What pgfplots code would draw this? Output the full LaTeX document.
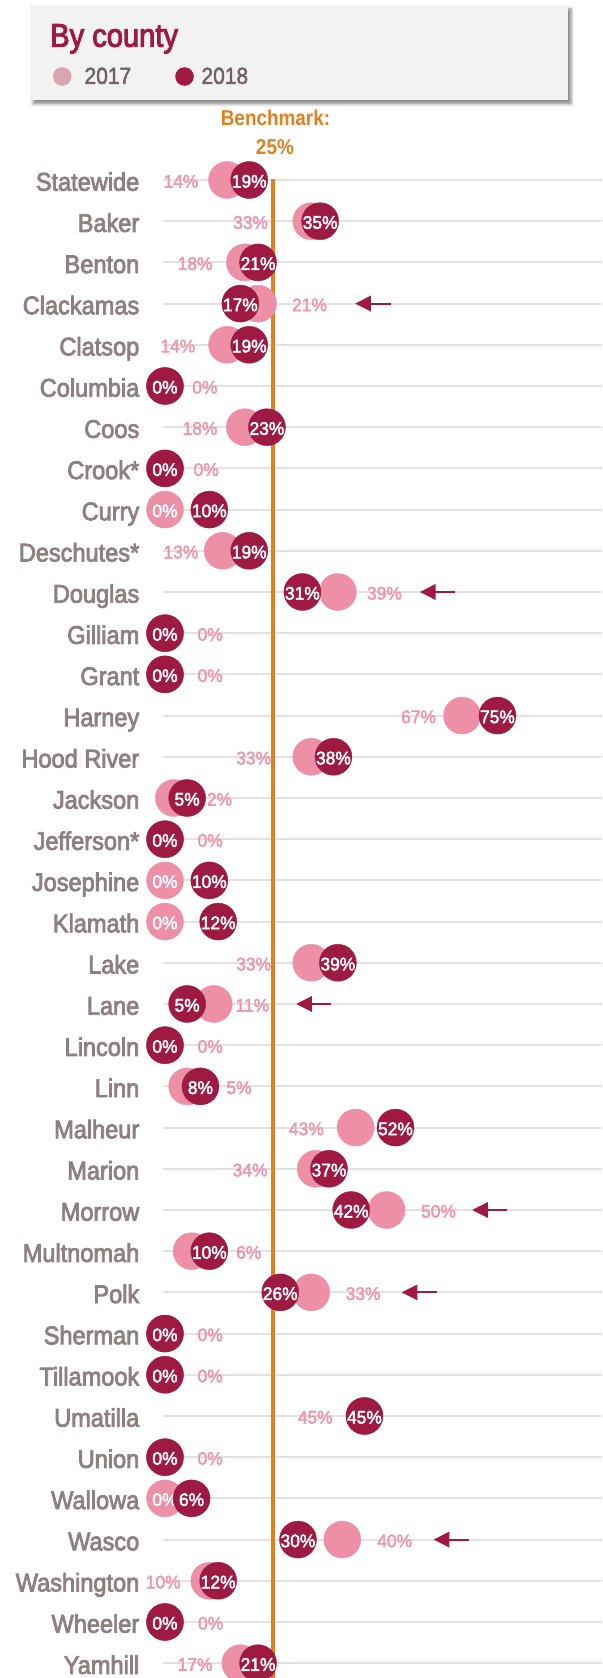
\documentclass[border=0pt]{standalone}
\usepackage{fontspec}
\setmainfont{Liberation Sans}
\newfontfamily\labelfont{Liberation Sans}[FakeStretch=0.92, FakeBold=3]
\newfontfamily\titlefont{Liberation Sans}[FakeStretch=0.89, FakeBold=3]
\newfontfamily\legfont{Liberation Sans}[FakeStretch=0.9, FakeBold=2]
\newfontfamily\numfont{Liberation Sans}[FakeStretch=0.95, FakeBold=2.5]
\newfontfamily\benchfont{Liberation Sans}[FakeStretch=0.88]
\usepackage{pgfplots}
\usepackage{pgfplotstable}
\pgfplotsset{compat=1.18}
\usetikzlibrary{arrows.meta,shadows.blur}

\definecolor{crimson}{RGB}{158,26,66}
\definecolor{pinkdot}{RGB}{236,143,167}
\definecolor{pinklab}{RGB}{238,150,172}
\definecolor{legpink}{RGB}{218,165,178}
\definecolor{namegray}{RGB}{141,128,128}
\definecolor{legtext}{RGB}{110,98,98}
\definecolor{gridgray}{RGB}{226,226,226}
\definecolor{boxgray}{RGB}{242,242,242}
\definecolor{bench}{RGB}{224,128,30}

\pgfplotstableread[col sep=comma]{
row,name,v17,v18,lx,ix
0,Statewide,14,19,3.6,nan
1,Baker,33,35,19.3,nan
2,Benton,18,21,6.8,nan
3,Clackamas,21,17,32.6,nan
4,Clatsop,14,19,2.9,nan
5,Columbia,0,0,9.0,nan
6,Coos,18,23,7.9,nan
7,Crook*,0,0,9.3,nan
8,Curry,0,10,nan,0
9,Deschutes*,13,19,3.6,nan
10,Douglas,39,31,49.5,nan
11,Gilliam,0,0,10.2,nan
12,Grant,0,0,10.2,nan
13,Harney,67,75,57.2,nan
14,Hood River,33,38,20.0,nan
15,Jackson,2,5,12.3,nan
16,Jefferson*,0,0,10.2,nan
17,Josephine,0,10,nan,0
18,Klamath,0,12,nan,0
19,Lake,33,39,20.0,nan
20,Lane,11,5,19.7,nan
21,Lincoln,0,0,10.2,nan
22,Linn,5,8,16.7,nan
23,Malheur,43,52,31.9,nan
24,Marion,34,37,19.2,nan
25,Morrow,50,42,61.7,nan
26,Multnomah,6,10,18.9,nan
27,Polk,33,26,44.7,nan
28,Sherman,0,0,10.2,nan
29,Tillamook,0,0,10.2,nan
30,Umatilla,45,45,33.9,nan
31,Union,0,0,10.2,nan
32,Wallowa,0,6,nan,0
33,Wasco,40,30,51.8,nan
34,Washington,10,12,-0.4,nan
35,Wheeler,0,0,10.3,nan
36,Yamhill,17,21,6.8,nan
}\datatable

\begin{document}
\begin{tikzpicture}
\begin{axis}[
  x=4.433pt, y=41.2pt, y dir=reverse,
  xmin=-0.5, xmax=98.6, ymin=-4.369, ymax=36.36,
  clip=false,
  axis line style={draw=none},
  major tick length=0pt,
  xtick=\empty,
  ytick={0,...,36},
  yticklabels from table={\datatable}{name},
  yticklabel style={anchor=base east, inner sep=0pt, xshift=-23.3pt, yshift=-10.7pt,
    font=\labelfont\fontsize{25.6}{28}\selectfont, text=namegray},
  ymajorgrids,
  grid style={draw=gridgray, line width=2pt},
  legend style={at={(-0.24995,0.9544)}, anchor=west, draw=none, fill=none,
    legend columns=2, font=\legfont\fontsize{23.3}{26}\selectfont, text=legtext,
    inner sep=0pt, outer sep=0pt,
    nodes={inner xsep=13pt, inner ysep=0pt},
    /tikz/every even column/.append style={column sep=25.7pt}},
  legend cell align=left,
]
% title box
\fill[boxgray, blur shadow={shadow xshift=3pt, shadow yshift=-4pt, shadow blur radius=3pt, shadow opacity=45}]
  (axis cs:-30.45,-4.248) rectangle (axis cs:90.98,-1.942);
\node[anchor=base west, text=crimson, inner sep=0pt, font=\titlefont\fontsize{32.7}{36}\selectfont]
  at (axis cs:-25.94,-3.235) {By county};
\addlegendimage{legend image code/.code={\fill[legpink, draw=none] (9.3pt,0pt) circle (9.3pt);}}
\addlegendentry{2017}
\addlegendimage{legend image code/.code={\path[draw=none, fill=none, use as bounding box] (0pt,-9.3pt) rectangle (18.6pt,9.3pt);
  \fill[crimson, draw=none] (14.6pt,0pt) circle (9.3pt);}}
\addlegendentry{2018}

% benchmark
\node[anchor=base, text=bench, inner sep=0pt, font=\benchfont\bfseries\fontsize{21.5}{24}\selectfont]
  at (axis cs:24.93,-1.311) {Benchmark:};
\node[anchor=base, text=bench, inner sep=0pt, font=\benchfont\bfseries\fontsize{21.5}{24}\selectfont]
  at (axis cs:24.8,-0.631) {25\%};
\addplot[forget plot, bench, line width=3.8pt] coordinates {(24.43,-0.02) (24.43,36.5)};

% 2017 dots
\addplot[forget plot, only marks, mark=*, mark size=18.5pt, color=pinkdot, mark options={draw=none}]
  table[x=v17, y=row]{\datatable};
% 0% labels inside 2017 dots
\addplot[forget plot, draw=none, mark=none, point meta=explicit symbolic,
  nodes near coords={\pgfplotspointmeta\%},
  every node near coord/.append style={anchor=base, yshift=-7.6pt, inner sep=0pt, text=white,
    font=\numfont\fontsize{18.3}{20}\selectfont}]
  table[x=ix, y=row, meta=v17]{\datatable};
% 2018 dots
\addplot[forget plot, only marks, mark=*, mark size=18.5pt, color=crimson, mark options={draw=none},
  point meta=explicit symbolic,
  nodes near coords={\pgfplotspointmeta\%},
  every node near coord/.append style={anchor=base, yshift=-7.6pt, inner sep=0pt, text=white,
    font=\numfont\fontsize{18.3}{20}\selectfont}]
  table[x=v18, y=row, meta=v18]{\datatable};
% 2017 labels
\addplot[forget plot, draw=none, mark=none, point meta=explicit symbolic,
  nodes near coords={\pgfplotspointmeta\%},
  every node near coord/.append style={anchor=base, yshift=-7.6pt, inner sep=0pt, text=pinklab,
    font=\numfont\fontsize{18.3}{20}\selectfont}]
  table[x=lx, y=row, meta=v17]{\datatable};

% arrows
\addplot[forget plot, crimson, line width=2pt, -{Triangle[length=15.7pt, width=15.4pt]}] coordinates {(50.9,3) (42.9,3)};
\addplot[forget plot, crimson, line width=2pt, -{Triangle[length=15.7pt, width=15.4pt]}] coordinates {(65.4,10) (57.5,10)};
\addplot[forget plot, crimson, line width=2pt, -{Triangle[length=15.7pt, width=15.4pt]}] coordinates {(37.4,20) (29.6,20)};
\addplot[forget plot, crimson, line width=2pt, -{Triangle[length=15.7pt, width=15.4pt]}] coordinates {(77.2,25) (69.3,25)};
\addplot[forget plot, crimson, line width=2pt, -{Triangle[length=15.7pt, width=15.4pt]}] coordinates {(61.3,27) (53.4,27)};
\addplot[forget plot, crimson, line width=2pt, -{Triangle[length=15.7pt, width=15.4pt]}] coordinates {(68.6,33) (60.6,33)};

\coordinate (BL) at (axis cs:-37.22,36.36);
\coordinate (TR) at (axis cs:98.6,-4.369);
\end{axis}
\pgfresetboundingbox
\path[use as bounding box] (BL) rectangle (TR);
\end{tikzpicture}
\end{document}
